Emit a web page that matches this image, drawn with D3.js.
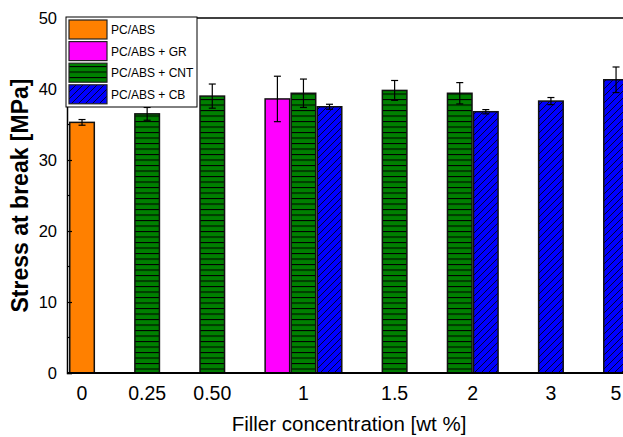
<!DOCTYPE html>
<html><head><meta charset="utf-8">
<script src="https://cdn.jsdelivr.net/npm/d3@7"></script>
<style>body{margin:0;background:#fff}svg{display:block}text{font-family:"Liberation Sans",Arial,sans-serif}</style>
</head><body><svg id="c" width="623" height="437"></svg>
<script>
const categories = ["0","0.25","0.50","1","1.5","2","3","5"];
const seriesNames = ["PC/ABS","PC/ABS + GR","PC/ABS + CNT","PC/ABS + CB"];
const pcabs    = [35.3, null, null, null, null, null, null, null];
const pcabsErr = [0.4,  null, null, null, null, null, null, null];
const gr       = [null, null, null, 38.6, null, null, null, null];
const grErr    = [null, null, null, 3.2,  null, null, null, null];
const cnt      = [null, 36.5, 39.0, 39.4, 39.8, 39.4, null, null];
const cntErr   = [null, 0.9,  1.7,  2.0,  1.4,  1.5,  null, null];
const cb       = [null, null, null, 37.5, null, 36.8, 38.3, 41.3];
const cbErr    = [null, null, null, 0.35, null, 0.3,  0.5,  1.8];
const yTicks = [0,10,20,30,40,50];

const values = [pcabs, gr, cnt, cb];
const errs = [pcabsErr, grErr, cntErr, cbErr];
const fills = ["#FF8000","#FF00FF","url(#pCNT)","url(#pCB)"];

// layout bars: consecutive slots per group, 1.5 slot gap between groups
const bars = []; const groupCenters = [];
let slot = 0;
categories.forEach((c, ci) => {
  const start = slot;
  values.forEach((arr, si) => {
    if (arr[ci] != null) { bars.push({ci, si, v: arr[ci], e: errs[si][ci], slot}); slot += 1; }
  });
  groupCenters.push({c, pos: (start + slot) / 2});
  slot += 1.5;
});

const svg = d3.select("#c");
const L = 67, R = 631, T = 18, B = 373;
const x = d3.scaleLinear().domain([0, 1]).range([69, 69 + 26.05]);
const y = d3.scaleLinear().domain([0, 50]).range([B, T]);
const bw = x(1) - x(0);

const defs = svg.append("defs");
const p1 = defs.append("pattern").attr("id","pCNT").attr("patternUnits","userSpaceOnUse")
  .attr("width",8).attr("height",5.5);
p1.append("rect").attr("width",8).attr("height",5.5).attr("fill","#008000");
p1.append("line").attr("x1",0).attr("x2",8).attr("y1",0.5).attr("y2",0.5).attr("stroke","#000").attr("stroke-width",1.1);
const p2 = defs.append("pattern").attr("id","pCB").attr("patternUnits","userSpaceOnUse")
  .attr("width",7).attr("height",7);
p2.append("rect").attr("width",7).attr("height",7).attr("fill","#0000FF");
p2.append("path").attr("d","M0,7L7,0M-1,1L1,-1M6,8L8,6").attr("stroke","#000").attr("stroke-width",0.8);

// bars
svg.append("g").selectAll("rect").data(bars).join("rect")
  .attr("x", d => x(d.slot) + 0.75).attr("width", bw - 1.5)
  .attr("y", d => y(d.v)).attr("height", d => y(0) - y(d.v))
  .attr("fill", d => fills[d.si]).attr("stroke","#111").attr("stroke-width",1.5);

// error bars
const eg = svg.append("g").attr("stroke","#000").attr("stroke-width",1.2);
bars.forEach(d => {
  const cx = x(d.slot + 0.5);
  eg.append("line").attr("x1",cx).attr("x2",cx).attr("y1",y(d.v + d.e)).attr("y2",y(d.v - d.e));
  eg.append("line").attr("x1",cx-3.5).attr("x2",cx+3.5).attr("y1",y(d.v + d.e)).attr("y2",y(d.v + d.e));
  eg.append("line").attr("x1",cx-3.5).attr("x2",cx+3.5).attr("y1",y(d.v - d.e)).attr("y2",y(d.v - d.e));
});

// frame
svg.append("line").attr("x1",L).attr("x2",R).attr("y1",T).attr("y2",T).attr("stroke","#000").attr("stroke-width",1.5);
svg.append("line").attr("x1",L).attr("x2",R).attr("y1",B).attr("y2",B).attr("stroke","#000").attr("stroke-width",2);

// y axis
const yAxis = d3.axisLeft(y).tickValues(yTicks).tickSize(-5).tickPadding(10).tickFormat(d3.format("d"));
const ya = svg.append("g").attr("transform",`translate(${L},0)`).call(yAxis);
ya.select(".domain").attr("stroke","#000").attr("stroke-width",1.5);
ya.selectAll(".tick line").attr("stroke","#000").attr("stroke-width",1.2);
ya.selectAll(".tick text").attr("font-size",16.5).attr("fill","#000").attr("font-family","Liberation Sans, Arial");
const minor = d3.range(5, 50, 10);
ya.selectAll(".minor").data(minor).join("line").attr("class","minor")
  .attr("x1",0).attr("x2",3).attr("y1",d=>y(d)).attr("y2",d=>y(d)).attr("stroke","#000").attr("stroke-width",1.2);

// x labels
svg.append("g").selectAll("text").data(groupCenters).join("text")
  .attr("x", d => x(d.pos)).attr("y", 400).attr("text-anchor","middle")
  .attr("font-size",19.5).text(d => d.c);

svg.append("text").attr("x",(L+R)/2).attr("y",431).attr("text-anchor","middle")
  .attr("font-size",20.5).text("Filler concentration [wt %]");
svg.append("text").attr("transform",`translate(28,${(T+B)/2}) rotate(-90)`).attr("text-anchor","middle")
  .attr("font-size",23).attr("font-weight","bold").text("Stress at break [MPa]");

// legend
const lg = svg.append("g");
lg.append("rect").attr("x",66).attr("y",17).attr("width",131).attr("height",90).attr("fill","#fff").attr("stroke","#000").attr("stroke-width",1);
seriesNames.forEach((n, i) => {
  const yy = 20 + i * 21.6;
  lg.append("rect").attr("x",69).attr("y",yy).attr("width",38).attr("height",19)
    .attr("fill", fills[i]).attr("stroke","#222").attr("stroke-width",1.2);
  lg.append("text").attr("x",111).attr("y",yy + 14).attr("font-size",12).text(n);
});
</script></body></html>
